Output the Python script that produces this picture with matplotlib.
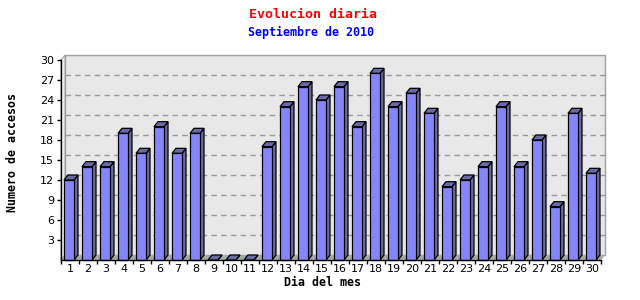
import matplotlib
matplotlib.use("Agg")
import matplotlib.pyplot as plt
from matplotlib.patches import Polygon, Rectangle

days = list(range(1, 31))
accesos = [12, 14, 14, 19, 16, 20, 16, 19, 0, 0, 0, 17, 23, 26, 24,
           26, 20, 28, 23, 25, 22, 11, 12, 14, 23, 14, 18, 8, 22, 13]
yticks = [3, 6, 9, 12, 15, 18, 21, 24, 27, 30]
title = "Evolucion diaria"
subtitle = "Septiembre de 2010"
xlabel = "Dia del mes"
ylabel = "Numero de accesos"

W, H = 640, 300
fig = plt.figure(figsize=(W / 100, H / 100), dpi=100)
fig.patch.set_facecolor("white")

# plot area in pixels
x0p, x1p, y0p, y1p = 61, 601, 260, 60
ax = fig.add_axes([x0p / W, 1 - y0p / H, (x1p - x0p) / W, (y0p - y1p) / H])
n = len(days)
ymax = 30
ax.set_xlim(0, n)
ax.set_ylim(0, ymax)
ax.set_facecolor("none")

# 3D depth in data units
dx = 4 / ((x1p - x0p) / n)
dy = 5 / ((y0p - y1p) / ymax)

# back wall
ax.add_patch(Rectangle((dx, dy), n, ymax, facecolor="#e8e8e8", edgecolor="#a0a0a0",
                       lw=1, clip_on=False, zorder=0))
# left side wall
ax.add_patch(Polygon([(0, 0), (dx, dy), (dx, ymax + dy), (0, ymax)], closed=True,
                     facecolor="#f2f2f2", edgecolor="#a0a0a0", lw=0.8, clip_on=False, zorder=0))
# floor
ax.add_patch(Polygon([(0, 0), (n, 0), (n + dx, dy), (dx, dy)], closed=True,
                     facecolor="#a8a8a8", edgecolor="none", clip_on=False, zorder=0.5))
# grid lines on back wall
for t in yticks[:-1]:
    ax.plot([dx, n + dx], [t + dy, t + dy], color="#999999", lw=1,
            ls=(0, (4, 3)), zorder=1, clip_on=False)

front_c = "#8686fc"
side_c = "#6a6aa8"
bw0, bw1 = 3 / 18, 13 / 18
for i, v in enumerate(accesos):
    xa, xb = i + bw0, i + bw1
    zo = 2 + i * 0.01
    ax.add_patch(Polygon([(xb, 0), (xb + dx, dy), (xb + dx, v + dy), (xb, v)], closed=True,
                         facecolor=side_c, edgecolor="black", lw=0.9, clip_on=False, zorder=zo))
    ax.add_patch(Polygon([(xa, v), (xb, v), (xb + dx, v + dy), (xa + dx, v + dy)], closed=True,
                         facecolor=side_c, edgecolor="black", lw=0.9, clip_on=False, zorder=zo))
    if v > 0:
        ax.add_patch(Rectangle((xa, 0), xb - xa, v, facecolor=front_c, edgecolor="black",
                               lw=0.9, clip_on=False, zorder=zo))

for s in ["top", "right"]:
    ax.spines[s].set_visible(False)
for s in ["left", "bottom"]:
    ax.spines[s].set_color("black")
    ax.spines[s].set_linewidth(1)
    ax.spines[s].set_zorder(10)

ax.set_yticks(yticks)
ax.set_yticklabels([str(t) for t in yticks])
ax.tick_params(axis="y", direction="out", length=3, width=1, pad=2, labelsize=8,
               colors="black")
ax.set_xticks(range(0, n + 1))
ax.set_xticklabels([])
ax.tick_params(axis="x", which="major", direction="out", length=3, width=1)
ax.set_xticks([i + 0.5 for i in range(n)], minor=True)
ax.set_xticklabels([str(d) for d in days], minor=True)
ax.tick_params(axis="x", which="minor", length=0, pad=3, labelsize=8)

mono = "DejaVu Sans Mono"
fig.text(313 / W, 1 - 14 / H, title, color="red", fontsize=9.5, fontweight="bold",
         family=mono, ha="center", va="center")
fig.text(311 / W, 1 - 32 / H, subtitle, color="blue", fontsize=8.4, fontweight="bold",
         family=mono, ha="center", va="center")
fig.text(323 / W, 1 - 282 / H, xlabel, color="black", fontsize=8.4, fontweight="bold",
         family=mono, ha="center", va="center")
fig.text(13 / W, 1 - 153 / H, ylabel, color="black", fontsize=8.4, fontweight="bold",
         family=mono, ha="center", va="center", rotation=90)

fig.savefig("out.png", dpi=100, facecolor="white")
